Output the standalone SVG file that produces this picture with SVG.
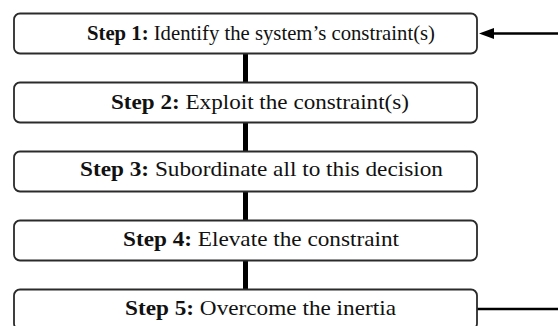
<svg xmlns="http://www.w3.org/2000/svg" width="558" height="326" viewBox="0 0 558 326">
<defs>
<style>
.box{fill:#fff;stroke:#2b2b2b;stroke-width:1.8}
text{font-family:"Liberation Serif","DejaVu Serif",serif;font-size:22px;fill:#111}
.b{font-weight:bold}
.v{stroke:#000;stroke-width:5}
.h{stroke:#000;stroke-width:2.6;fill:none}
</style>
</defs>
<rect width="558" height="326" fill="#fff"/>
<g id="connectors">
<line class="v" x1="245.5" y1="53" x2="245.5" y2="82"/>
<line class="v" x1="245.5" y1="122" x2="245.5" y2="151"/>
<line class="v" x1="245.5" y1="191" x2="245.5" y2="220"/>
<line class="v" x1="245.5" y1="261" x2="245.5" y2="289"/>
<line class="h" x1="558" y1="33.5" x2="494" y2="33.5"/>
<path d="M479,33.5 L494,28 L494,39 Z" fill="#000"/>
<line class="h" x1="477" y1="309" x2="558" y2="309"/>
</g>
<g id="step1">
<rect class="box" x="14" y="13.5" width="463" height="40" rx="6"/>
<text font-family="Liberation Serif, serif" x="87" y="40" textLength="348" lengthAdjust="spacingAndGlyphs"><tspan class="b">Step 1:</tspan> Identify the system’s constraint(s)</text>
</g>
<g id="step2">
<rect class="box" x="14" y="82.5" width="463" height="40" rx="6"/>
<text font-family="Liberation Serif, serif" x="111" y="109" textLength="298" lengthAdjust="spacingAndGlyphs"><tspan class="b">Step 2:</tspan> Exploit the constraint(s)</text>
</g>
<g id="step3">
<rect class="box" x="14" y="151.5" width="463" height="40" rx="6"/>
<text font-family="Liberation Serif, serif" x="80" y="176" textLength="363" lengthAdjust="spacingAndGlyphs"><tspan class="b">Step 3:</tspan> Subordinate all to this decision</text>
</g>
<g id="step4">
<rect class="box" x="14" y="220.5" width="463" height="40" rx="6"/>
<text font-family="Liberation Serif, serif" x="123" y="246" textLength="276" lengthAdjust="spacingAndGlyphs"><tspan class="b">Step 4:</tspan> Elevate the constraint</text>
</g>
<g id="step5">
<rect class="box" x="14" y="289.5" width="463" height="40" rx="6"/>
<text font-family="Liberation Serif, serif" x="125" y="315" textLength="271" lengthAdjust="spacingAndGlyphs"><tspan class="b">Step 5:</tspan> Overcome the inertia</text>
</g>
</svg>
